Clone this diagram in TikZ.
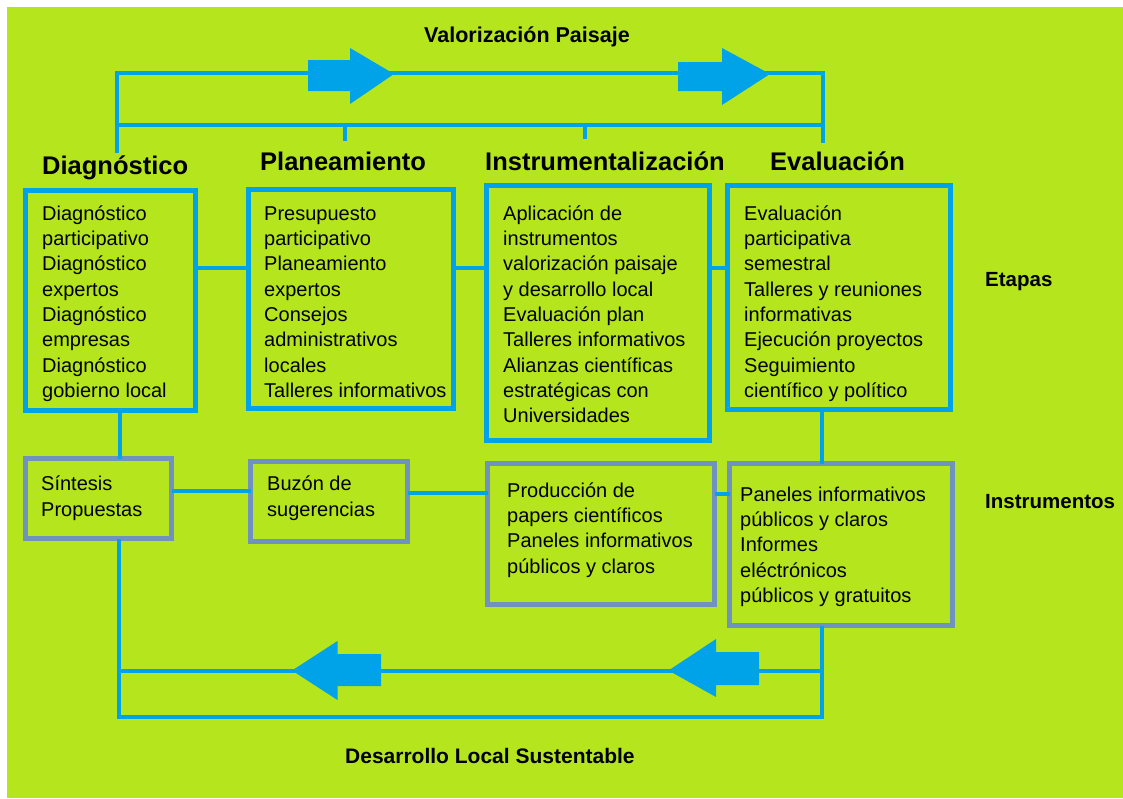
\documentclass[tikz,border=0pt]{standalone}
\usepackage{fontspec}
\setmainfont{Liberation Sans}
\definecolor{bggreen}{HTML}{B5E61D}
\definecolor{lnblue}{HTML}{00A2E8}
\definecolor{boxgray}{HTML}{7092BE}
\newcommand{\firstln}{\rule{0pt}{19pt}}
\begin{document}
\begin{tikzpicture}[x=1pt,y=-1pt,
  conn/.style={draw=lnblue, line width=4pt},
  stagebox/.style={draw=lnblue, line width=5pt, rectangle, inner sep=0pt, outer sep=0pt, anchor=north west},
  toolbox/.style={draw=boxgray, line width=4.5pt, rectangle, inner sep=0pt, outer sep=0pt, anchor=north west},
  body/.style={anchor=north west, inner sep=0pt, align=left, font=\fontsize{20pt}{25.3pt}\selectfont, text=black},
  title/.style={anchor=base west, inner sep=0pt, font=\bfseries\fontsize{25.5pt}{30pt}\selectfont, text=black},
  lab/.style={anchor=base west, inner sep=0pt, font=\bfseries\fontsize{21pt}{25pt}\selectfont, text=black},
  bigarrow/.style={fill=lnblue, draw=none}]
\useasboundingbox (0,0) rectangle (1123,798);
\fill[white] (0,0) rectangle (1123,798);
\fill[bggreen] (7,7) rectangle (1123,798);

% labels
\node[lab, font=\bfseries\fontsize{21.5pt}{25pt}\selectfont] (valor) at (424,42) {Valorización Paisaje};
\node[lab, font=\bfseries\fontsize{20.5pt}{25pt}\selectfont] (etapas) at (985,286) {Etapas};
\node[lab, font=\bfseries\fontsize{20.5pt}{25pt}\selectfont] (instrum) at (985,508) {Instrumentos};
\node[lab] (desarr) at (345,763) {Desarrollo Local Sustentable};

% titles
\node[title] (tdiag) at (42,174) {Diagnóstico};
\node[title] (tplan) at (260,170) {Planeamiento};
\node[title] (tinstr) at (485,170) {Instrumentalización};
\node[title] (teval) at (770,170) {Evaluación};

% top frame
\coordinate (dtop) at (117,153);
\coordinate (tl) at (117,73);
\coordinate (tr) at (823,73);
\coordinate (etop) at (823,143);
\coordinate (ml2) at (117,125);
\coordinate (mr2) at (823,125);
\coordinate (pt1) at (344.5,125);
\coordinate (pt2) at (344.5,141);
\coordinate (it1) at (584.5,125);
\coordinate (it2) at (584.5,139);
\draw[conn] (dtop) -- (tl) -- (tr) -- (etop);
\draw[conn] (ml2) -- (mr2);
\draw[conn] (pt1) -- (pt2);
\draw[conn] (it1) -- (it2);
\fill[bigarrow] (308,60) -- (350,60) -- (350,48) -- (394,74) -- (350,104) -- (350,91) -- (308,91) -- cycle;
\fill[bigarrow] (678,62) -- (722,62) -- (722,48) -- (770,74) -- (722,105) -- (722,91) -- (678,91) -- cycle;

% stage boxes
\node[stagebox, minimum width=170pt, minimum height=220pt] (diag) at (25.5,190.5) {};
\node[stagebox, minimum width=205pt, minimum height=219pt] (plan) at (248.5,189.5) {};
\node[stagebox, minimum width=223pt, minimum height=255pt] (instr) at (486.5,185.5) {};
\node[stagebox, minimum width=223pt, minimum height=224pt] (eval) at (727.5,185.5) {};

% tool boxes
\node[toolbox, minimum width=146pt, minimum height=80pt] (sint) at (25.5,458.5) {};
\node[toolbox, minimum width=157pt, minimum height=80pt] (buz) at (250.5,461.5) {};
\node[toolbox, minimum width=227pt, minimum height=141pt] (prod) at (487.5,463.5) {};
\node[toolbox, minimum width=223pt, minimum height=162pt] (pan) at (729.5,463.5) {};

% texts
\node[body] (diagtxt) at (42,201) {\firstln Diagnóstico\\participativo\\Diagnóstico\\expertos\\Diagnóstico\\empresas\\Diagnóstico\\gobierno local};
\node[body] (plantxt) at (264,201) {\firstln Presupuesto\\participativo\\Planeamiento\\expertos\\Consejos\\administrativos\\locales\\Talleres informativos};
\node[body] (instrtxt) at (503,201) {\firstln Aplicación de\\instrumentos\\valorización paisaje\\y desarrollo local\\Evaluación plan\\Talleres informativos\\Alianzas científicas\\estratégicas con\\Universidades};
\node[body] (evaltxt) at (744,201) {\firstln Evaluación\\participativa\\semestral\\Talleres y reuniones\\informativas\\Ejecución proyectos\\Seguimiento\\científico y político};
\node[body, font=\fontsize{20pt}{26pt}\selectfont] (sinttxt) at (41,471) {\firstln Síntesis\\Propuestas};
\node[body, font=\fontsize{20pt}{26pt}\selectfont] (buztxt) at (267,471) {\firstln Buzón de\\sugerencias};
\node[body] (prodtxt) at (507,478) {\firstln Producción de\\papers científicos\\Paneles informativos\\públicos y claros};
\node[body] (pantxt) at (740,482) {\firstln Paneles informativos\\públicos y claros\\Informes\\eléctrónicos\\públicos y gratuitos};

% connectors
\draw[conn] (diag.east |- 0,268.3) -- (plan.west |- 0,268.3);
\draw[conn] (plan.east |- 0,268.3) -- (instr.west |- 0,268.3);
\draw[conn] (instr.east |- 0,268.3) -- (eval.west |- 0,268.3);
\draw[conn] (sint.east |- 0,491) -- (buz.west |- 0,491);
\draw[conn] (buz.east |- 0,493) -- (prod.west |- 0,493);
\draw[conn] (prod.east |- 0,494) -- (pan.west |- 0,494);
\draw[conn] (diag.south -| 119.5,0) -- (sint.north -| 119.5,0);
\draw[conn] (eval.south -| 822,0) -- (pan.north -| 822,0);

% bottom loop
\coordinate (bl) at (119,716.5);
\coordinate (br) at (822,716.5);
\coordinate (ml) at (119,670.7);
\coordinate (mr) at (822,670.7);
\draw[conn] (sint.south -| 119,0) -- (bl) -- (br) -- (pan.south -| 822,0);
\draw[conn] (ml) -- (mr);
\fill[bigarrow] (381,654) -- (337.5,654) -- (337.5,641) -- (292,670.5) -- (337.5,700) -- (337.5,686) -- (381,686) -- cycle;
\fill[bigarrow] (759,652) -- (716,652) -- (716,639) -- (668.5,670.5) -- (716,697) -- (716,685) -- (759,685) -- cycle;
\end{tikzpicture}
\end{document}
